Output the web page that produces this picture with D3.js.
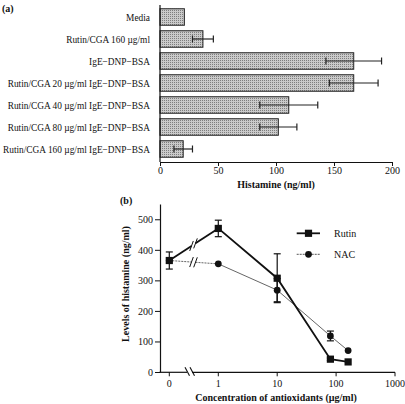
<!DOCTYPE html>
<html><head><meta charset="utf-8">
<script src="https://cdn.jsdelivr.net/npm/d3@7"></script>
<style>body{margin:0;background:#fff}svg{display:block}text{font-family:"Liberation Serif","Times New Roman",serif;fill:#111}</style>
</head><body>
<script>
// Panel (a)
const categories = ["Media","Rutin/CGA 160 \u00b5g/ml","IgE\u2212DNP\u2212BSA","Rutin/CGA 20 \u00b5g/ml IgE\u2212DNP\u2212BSA","Rutin/CGA 40 \u00b5g/ml IgE\u2212DNP\u2212BSA","Rutin/CGA 80 \u00b5g/ml IgE\u2212DNP\u2212BSA","Rutin/CGA 160 \u00b5g/ml IgE\u2212DNP\u2212BSA"];
const histamine = [21, 37, 167, 167, 111, 102, 20];
const histErr = [0, 9, 24, 21, 25, 16, 8];
const histTicks = [0, 50, 100, 150, 200];
// Panel (b)
const conc = [0, 1, 10, 80, 160];
const rutin = [365, 470, 307, 42, 33];
const rutinErr = [28, 27, 80, 4, 0];
const nac = [365, 354, 268, 118, 70];
const nacErr = [0, 0, 38, 16, 0];
const concTicks = [0, 1, 10, 100, 1000];
const levelTicks = [0, 100, 200, 300, 400, 500];

const svg = d3.select("body").append("svg").attr("width",405).attr("height",404);
const defs = svg.append("defs");
const pat = defs.append("pattern").attr("id","stip").attr("patternUnits","userSpaceOnUse").attr("width",2).attr("height",2);
pat.append("rect").attr("width",2).attr("height",2).attr("fill","#cacaca");
pat.append("rect").attr("width",1).attr("height",1).attr("fill","#7e7e7e");

// ---------- Panel a ----------
svg.append("text").attr("x",2).attr("y",12).attr("font-size",10).attr("font-weight","bold").text("(a)");
const xa = d3.scaleLinear().domain([0,200]).range([160,392]);
const ya = d3.scaleBand().domain(categories).range([6,160]).paddingInner(0.25).paddingOuter(0.125);
const ga = svg.append("g");
ga.selectAll("rect.bar").data(categories).join("rect").attr("class","bar")
  .attr("x",xa(0)).attr("y",d=>ya(d)).attr("height",ya.bandwidth())
  .attr("width",(d,i)=>xa(histamine[i])-xa(0))
  .attr("fill","url(#stip)").attr("stroke","#222").attr("stroke-width",1);
categories.forEach((c,i)=>{
  if(!histErr[i]) return;
  const cy = ya(c)+ya.bandwidth()/2;
  const x1 = xa(histamine[i]-histErr[i]), x2 = xa(histamine[i]+histErr[i]);
  ga.append("line").attr("x1",x1).attr("x2",x2).attr("y1",cy).attr("y2",cy).attr("stroke","#222").attr("stroke-width",1.2);
  [x1,x2].forEach(x=>ga.append("line").attr("x1",x).attr("x2",x).attr("y1",cy-3.5).attr("y2",cy+3.5).attr("stroke","#222").attr("stroke-width",1.2));
});
const catText = ga.selectAll("text.cat").data(categories).join("text").attr("class","cat")
  .attr("x",150).attr("y",d=>ya(d)+ya.bandwidth()/2).attr("dy","0.35em")
  .attr("text-anchor","end").attr("font-size",10.6).text(d=>d);
// condense labels horizontally so the longest fits the reference width (~147px)
let maxW = 0; catText.each(function(){ maxW = Math.max(maxW, this.getComputedTextLength()); });
if (maxW > 147) {
  const k = 147/maxW;
  catText.each(function(){ const w=this.getComputedTextLength(); d3.select(this).attr("textLength", w*k).attr("lengthAdjust","spacingAndGlyphs"); });
}
ga.append("line").attr("x1",160).attr("x2",160).attr("y1",5).attr("y2",162).attr("stroke","#111").attr("stroke-width",1.2);
const axA = ga.append("g").attr("transform","translate(0,162)")
  .call(d3.axisBottom(xa).tickValues(histTicks).tickSize(4).tickSizeOuter(0));
axA.select(".domain").attr("stroke","#111").attr("stroke-width",1.2);
axA.selectAll(".tick line").attr("stroke","#111");
axA.selectAll(".tick text").attr("font-size",10).attr("font-family","Liberation Serif").attr("fill","#111").attr("dy","0.5em");
ga.append("text").attr("x",276).attr("y",188).attr("text-anchor","middle").attr("font-size",10).attr("font-weight","bold").text("Histamine (ng/ml)");

// ---------- Panel b ----------
svg.append("text").attr("x",120).attr("y",204).attr("font-size",10).attr("font-weight","bold").text("(b)");
const yb = d3.scaleLinear().domain([0,550]).range([372,204]);
const xlog = d3.scaleLog().domain([1,1000]).range([218.3,395]);
const xZero = 169.3;
const xb = v => v===0 ? xZero : xlog(v);
const gb = svg.append("g");
const axY = gb.append("g").attr("transform","translate(160,0)")
  .call(d3.axisLeft(yb).tickValues(levelTicks).tickSize(5).tickSizeOuter(0).tickPadding(2));
axY.select(".domain").attr("stroke","#111").attr("stroke-width",1.2);
axY.selectAll(".tick line").attr("stroke","#111");
axY.selectAll(".tick text").attr("font-size",10).attr("font-family","Liberation Serif").attr("fill","#111");
const yAx = 372.3;
gb.append("line").attr("x1",159.4).attr("x2",187).attr("y1",yAx).attr("y2",yAx).attr("stroke","#111").attr("stroke-width",1.2);
gb.append("line").attr("x1",192).attr("x2",395).attr("y1",yAx).attr("y2",yAx).attr("stroke","#111").attr("stroke-width",1.2);
[185,190].forEach(x=>gb.append("line").attr("x1",x).attr("x2",x+4.5).attr("y1",yAx-5).attr("y2",yAx+3.5).attr("stroke","#111").attr("stroke-width",1.1));
const gx = gb.append("g");
gx.selectAll("line").data(concTicks).join("line").attr("x1",d=>xb(d)).attr("x2",d=>xb(d)).attr("y1",yAx).attr("y2",yAx+4).attr("stroke","#111");
gx.selectAll("text").data(concTicks).join("text").attr("x",d=>xb(d)).attr("y",387).attr("text-anchor","middle").attr("font-size",10).text(d=>d);
gb.append("text").attr("x",276).attr("y",401).attr("text-anchor","middle").attr("font-size",10).attr("font-weight","bold").text("Concentration of antioxidants (\u00b5g/ml)");
gb.append("text").attr("transform","translate(129,284) rotate(-90)").attr("text-anchor","middle").attr("font-size",10).attr("font-weight","bold").text("Levels of histamine (ng/ml)");

function drawSeries(vals, errs, opts){
  const g = gb.append("g");
  const p0 = [xb(conc[0]), yb(vals[0])], p1 = [xb(conc[1]), yb(vals[1])];
  const yAt = x => p0[1] + (p1[1]-p0[1])*(x-p0[0])/(p1[0]-p0[0]);
  const b1 = 191.5, b2 = 195.5;
  const seg = (xa_,xb_) => g.append("line").attr("x1",xa_).attr("y1",yAt(xa_)).attr("x2",xb_).attr("y2",yAt(xb_))
      .attr("stroke",opts.color).attr("stroke-width",opts.w).attr("stroke-dasharray",opts.dash0||null);
  seg(p0[0],b1); seg(b2,p1[0]);
  [b1,b2].forEach(x=>g.append("line").attr("x1",x-1.8).attr("y1",yAt(x)+5).attr("x2",x+1.8).attr("y2",yAt(x)-5).attr("stroke","#111").attr("stroke-width",1));
  const line = d3.line().x((d,i)=>xb(conc[i+1])).y(d=>yb(d));
  g.append("path").attr("d",line(vals.slice(1))).attr("fill","none").attr("stroke",opts.color).attr("stroke-width",opts.w).attr("stroke-dasharray",opts.dash||null);
  vals.forEach((v,i)=>{
    if(!errs[i]) return;
    const x = xb(conc[i]);
    const yU = yb(v+errs[i]), yL = yb(v-errs[i]);
    g.append("line").attr("x1",x).attr("x2",x).attr("y1",yU).attr("y2",yL).attr("stroke","#111").attr("stroke-width",1.2);
    [yU,yL].forEach(y=>g.append("line").attr("x1",x-3.5).attr("x2",x+3.5).attr("y1",y).attr("y2",y).attr("stroke","#111").attr("stroke-width",1.2));
  });
  vals.forEach((v,i)=>{
    const x = xb(conc[i]), y = yb(v);
    if(opts.marker==="square") g.append("rect").attr("x",x-3.6).attr("y",y-3.6).attr("width",7.2).attr("height",7.2).attr("fill","#111");
    else g.append("circle").attr("cx",x).attr("cy",y).attr("r",3.4).attr("fill","#111");
  });
}
drawSeries(nac, nacErr, {color:"#666", w:1, dash0:"2,1", marker:"circle"});
drawSeries(rutin, rutinErr, {color:"#111", w:1.8, marker:"square"});

const lg = gb.append("g");
lg.append("line").attr("x1",296.7).attr("x2",320).attr("y1",233.3).attr("y2",233.3).attr("stroke","#111").attr("stroke-width",1.8);
lg.append("rect").attr("x",308.5-3.6).attr("y",233.3-3.6).attr("width",7.2).attr("height",7.2).attr("fill","#111");
lg.append("text").attr("x",334).attr("y",233.3).attr("dy","0.35em").attr("font-size",10).text("Rutin");
lg.append("line").attr("x1",296.7).attr("x2",320).attr("y1",254.3).attr("y2",254.3).attr("stroke","#555").attr("stroke-width",1).attr("stroke-dasharray","2,1");
lg.append("circle").attr("cx",308.5).attr("cy",254.3).attr("r",3.4).attr("fill","#111");
lg.append("text").attr("x",334).attr("y",254.3).attr("dy","0.35em").attr("font-size",10).text("NAC");
</script>
</body></html>
